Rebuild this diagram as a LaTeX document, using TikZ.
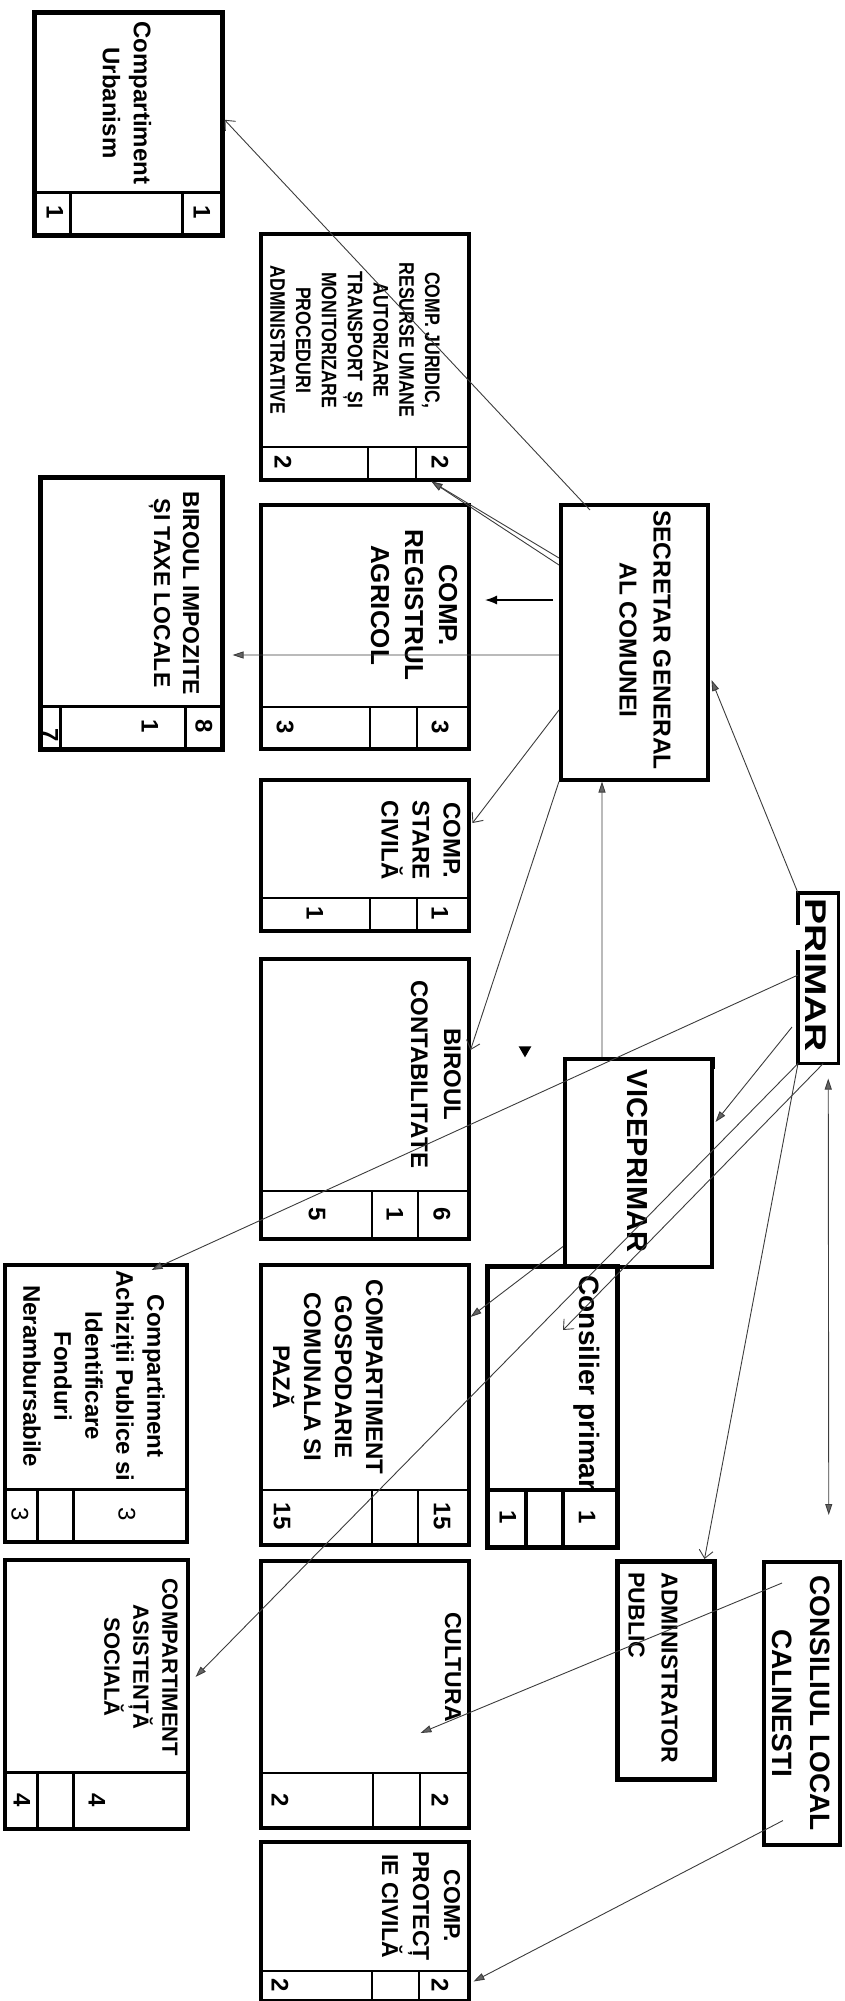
\documentclass[tikz,border=0pt]{standalone}
\usepackage{fontspec}
\setmainfont{Liberation Sans}
\newfontfamily\narrowsans{Liberation Sans}[FakeStretch=0.84]
\newfontfamily\widesans{Liberation Sans}[FakeStretch=1.3]
\usetikzlibrary{arrows.meta, shapes.geometric}
\definecolor{linkgray}{RGB}{60,60,60}
\definecolor{tipgray}{RGB}{100,100,100}

\begin{document}
\begin{tikzpicture}[
    x=1bp, y=1bp,
    unit/.style={draw, line width=3.5bp, rectangle, inner sep=0pt, anchor=north west},
    heavy/.style={line width=4.5bp},
    cellline/.style={line width=2bp},
    title/.style={rotate=-90, align=center, inner sep=0pt, font=\bfseries\fontsize{24bp}{31bp}\selectfont},
    num/.style={rotate=-90, inner sep=0pt, font=\bfseries\fontsize{24bp}{24bp}\selectfont},
    link/.style={draw=linkgray, line width=0.9bp, -{Triangle[length=11bp,width=7bp,fill=tipgray]}},
    openlink/.style={draw=linkgray, line width=0.9bp, -{Straight Barb[length=8bp,width=14bp]}},
    bothlink/.style={draw=linkgray, line width=0.9bp, {Triangle[length=11bp,width=7bp,fill=tipgray]}-{Triangle[length=11bp,width=7bp,fill=tipgray]}}
]
    \useasboundingbox (0,0) rectangle (845,-2001);

    % Boxes
    \node[unit, heavy, minimum width=188bp, minimum height=223bp] (urb) at (32,-10) {};
    \node[unit, minimum width=208bp, minimum height=246bp] (jur) at (259,-232) {};
    \node[unit, minimum width=208bp, minimum height=244bp] (reg) at (259,-503) {};
    \node[unit, heavy, minimum width=182bp, minimum height=272bp] (imp) at (38,-475) {};
    \node[unit, minimum width=208bp, minimum height=151bp] (sta) at (259,-778) {};
    \node[unit, minimum width=208bp, minimum height=280bp] (con) at (259,-957) {};
    \node[unit, minimum width=147bp, minimum height=275bp] (sec) at (559,-503) {};
    \node[unit, draw=none, minimum width=37bp, minimum height=167bp] (pri) at (798,-893) {};
    \node[unit, minimum width=147bp, minimum height=208bp] (vic) at (563,-1057) {};
    \node[unit, heavy, minimum width=130bp, minimum height=281bp] (cpr) at (485,-1264) {};
    \node[unit, minimum width=208bp, minimum height=280bp] (gos) at (259,-1263) {};
    \node[unit, minimum width=182bp, minimum height=277bp] (ach) at (3,-1263) {};
    \node[unit, heavy, minimum width=97bp, minimum height=218bp] (adm) at (615,-1559) {};
    \node[unit, minimum width=76bp, minimum height=283bp] (cl) at (762,-1560) {};
    \node[unit, minimum width=208bp, minimum height=267bp] (cul) at (259,-1559) {};
    \node[unit, minimum width=208bp, minimum height=159bp] (pro) at (259,-1840) {};
    \node[unit, minimum width=183bp, minimum height=269bp] (asi) at (3,-1558) {};

    % PRIMAR frame, open on the left side
    \draw[line width=3.5bp] ([yshift=-32bp]pri.north west) -- (pri.north west) -- (pri.north east)
        -- (pri.south east) -- (pri.south west) -- ([yshift=-57bp]pri.north west);
    % small tick on VICEPRIMAR
    \draw[line width=2.5bp] (vic.north east) -- ([yshift=-12bp]vic.north east);

    % Footer cells
    \draw[cellline, line width=3bp] (32,-192) -- (220,-192) (70,-192) -- (70,-233) (182,-192) -- (182,-233);
    \draw[cellline] (259,-447) -- (467,-447) (368,-447) -- (368,-478) (416,-447) -- (416,-478);
    \draw[cellline] (259,-707) -- (467,-707) (370,-707) -- (370,-747) (417,-707) -- (417,-747);
    \draw[cellline, line width=3bp] (38,-706) -- (220,-706) (60,-706) -- (60,-747) (185,-706) -- (185,-747);
    \draw[cellline] (259,-898) -- (467,-898) (370,-898) -- (370,-929) (417,-898) -- (417,-929);
    \draw[cellline] (259,-1191) -- (467,-1191) (372,-1191) -- (372,-1237) (418,-1191) -- (418,-1237);
    \draw[cellline, line width=3.5bp] (485,-1490) -- (615,-1490) (526,-1490) -- (526,-1545) (563,-1490) -- (563,-1545);
    \draw[cellline] (259,-1490) -- (467,-1490) (372,-1490) -- (372,-1543) (418,-1490) -- (418,-1543);
    \draw[cellline, line width=3bp] (3,-1489) -- (185,-1489) (37,-1489) -- (37,-1540) (73,-1489) -- (73,-1540);
    \draw[cellline] (259,-1773) -- (467,-1773) (373,-1773) -- (373,-1826) (420,-1773) -- (420,-1826);
    \draw[cellline] (259,-1971) -- (467,-1971) (372,-1971) -- (372,-1999) (419,-1971) -- (419,-1999);
    \draw[cellline, line width=3bp] (3,-1772) -- (186,-1772) (37,-1772) -- (37,-1827) (73,-1772) -- (73,-1827);

    % Titles
    \node[title] (urbT) at (127,-103) {Compartiment\\Urbanism};
    \node[title, font=\narrowsans\bfseries\fontsize{21bp}{25.8bp}\selectfont] (jurT) at (355,-340)
        {COMP. JURIDIC,\\RESURSE UMANE\\AUTORIZARE\\TRANSPORT\ \ ȘI\\MONITORIZARE\\PROCEDURI\\ADMINISTRATIVE};
    \node[title, font=\bfseries\fontsize{26bp}{34bp}\selectfont] (regT) at (414,-605) {COMP.\\REGISTRUL\\AGRICOL};
    \node[title, font=\bfseries\fontsize{23bp}{29bp}\selectfont] (impT) at (174,-593) {BIROUL IMPOZITE\\ȘI TAXE LOCALE};
    \node[title] (staT) at (421,-840) {COMP.\\STARE\\CIVILĂ};
    \node[title, font=\bfseries\fontsize{24bp}{33bp}\selectfont] (conT) at (436,-1074) {BIROUL\\CONTABILITATE};
    \node[title, font=\bfseries\fontsize{24.5bp}{34bp}\selectfont] (secT) at (645,-640) {SECRETAR GENERAL\\AL COMUNEI};
    \node[title, font=\bfseries\fontsize{29bp}{34bp}\selectfont] (vicT) at (637,-1161) {VICEPRIMAR};
    \node[title, font=\widesans\bfseries\fontsize{30bp}{34bp}\selectfont] (priT) at (816,-975) {PRIMAR};
    \node[title, font=\bfseries\fontsize{28bp}{34bp}\selectfont] (cprT) at (587,-1383) {Consilier primar};
    \node[title] (gosT) at (328,-1377) {COMPARTIMENT\\GOSPODARIE\\COMUNALA SI\\PAZĂ};
    \node[title] (achT) at (94,-1376) {Compartiment\\Achiziții Publice si\\Identificare\\Fonduri\\Nerambursabile};
    \node[title, align=left, font=\bfseries\fontsize{23bp}{33bp}\selectfont] (admT) at (653,-1668) {ADMINISTRATOR\\PUBLIC};
    \node[title, font=\bfseries\fontsize{28bp}{38bp}\selectfont] (clT) at (801,-1703) {CONSILIUL LOCAL\\CALINESTI};
    \node[title, font=\bfseries\fontsize{23bp}{31bp}\selectfont] (culT) at (453,-1667) {CULTURA};
    \node[title, font=\bfseries\fontsize{23bp}{31bp}\selectfont] (proT) at (421,-1906) {COMP.\\PROTECȚ\\IE CIVILĂ};
    \node[title, font=\bfseries\fontsize{22bp}{29bp}\selectfont] (asiT) at (141,-1667) {COMPARTIMENT\\ASISTENȚĂ\\SOCIALĂ};

    % Staff numbers
    \node[num] (urbA) at (55,-212) {1};
    \node[num] (urbB) at (202,-212) {1};
    \node[num] (jurA) at (283,-462) {2};
    \node[num] (jurB) at (440,-462) {2};
    \node[num] (regA) at (285,-727) {3};
    \node[num] (regB) at (440,-727) {3};
    \node[num] (impA) at (50,-735) {7};
    \node[num] (impB) at (150,-726) {1};
    \node[num] (impC) at (204,-726) {8};
    \node[num] (staA) at (315,-913) {1};
    \node[num] (staB) at (440,-913) {1};
    \node[num] (conA) at (317,-1214) {5};
    \node[num] (conB) at (395,-1214) {1};
    \node[num] (conC) at (442,-1214) {6};
    \node[num] (cprA) at (508,-1517) {1};
    \node[num] (cprB) at (587,-1517) {1};
    \node[num] (gosA) at (282,-1516) {15};
    \node[num] (gosB) at (442,-1516) {15};
    \node[num, font=\fontsize{24bp}{24bp}\selectfont] (achA) at (20,-1514) {3};
    \node[num, font=\fontsize{24bp}{24bp}\selectfont] (achB) at (127,-1514) {3};
    \node[num] (culA) at (280,-1800) {2};
    \node[num] (culB) at (440,-1800) {2};
    \node[num] (proA) at (280,-1985) {2};
    \node[num] (proB) at (440,-1985) {2};
    \node[num] (asiA) at (22,-1800) {4};
    \node[num] (asiB) at (97,-1800) {4};

    % Stray marker
    \node[fill, isosceles triangle, isosceles triangle apex angle=60, shape border rotate=-90,
        minimum size=11bp, inner sep=0pt] (mark) at (525,-1050) {};

    % Links from the secretary
    \draw[openlink] ([xshift=31bp,yshift=-7bp]sec.north west) -- ([yshift=4bp]urb.east);
    \draw[link] ([yshift=-55bp]sec.north west) -- ([xshift=-39bp]jur.south east);
    \draw[link] ([yshift=-62bp]sec.north west) -- ([xshift=-39bp]jur.south east);
    \draw[line width=1.3bp, -{Latex[length=12bp,width=9bp]}] ([xshift=-6bp,yshift=-97bp]sec.north west) -- ++(-68bp,0);
    \draw[link] ([yshift=-152bp]sec.north west) -- ([xshift=8bp,yshift=-180bp]imp.north east);
    \draw[openlink] ([yshift=-207bp]sec.north west) -- ([xshift=2bp,yshift=-45bp]sta.north east);
    \draw[openlink] (sec.south west) -- ([yshift=-93bp]con.north east);

    % Links from the mayor
    \draw[link] ([xshift=39bp]vic.north west) -- ([xshift=43bp]sec.south west);
    \draw[link] (pri.north west) -- ([xshift=2bp,yshift=-177bp]sec.north east);
    \draw[link] ([xshift=-6bp,yshift=-134bp]pri.north west) -- ([xshift=2bp,yshift=-65bp]vic.north east);
    \draw[link] ([yshift=-82bp]pri.north west) -- ([xshift=-37bp,yshift=-7bp]ach.north east);
    \draw[link] (pri.south west) -- ([xshift=6bp,yshift=-119bp]asi.north east);
    \draw[openlink] ([xshift=5bp]pri.south) -- ([xshift=78bp,yshift=-66bp]cpr.north west);
    \draw[openlink] (pri.south west) -- ([xshift=-12bp]adm.north east);
    \draw[bothlink] ([xshift=10bp,yshift=-15bp]pri.south) -- ([xshift=27bp,yshift=45bp]cl.north);
    \draw[link] ([yshift=22bp]vic.south west) -- ([yshift=-54bp]gos.north east);

    % Links from the council
    \draw[link] ([xshift=20bp,yshift=-23bp]cl.north west) -- ([xshift=-50bp,yshift=-174bp]cul.north east);
    \draw[link] ([xshift=21bp,yshift=26bp]cl.south west) -- ([xshift=3bp,yshift=21bp]pro.south east);
\end{tikzpicture}
\end{document}
